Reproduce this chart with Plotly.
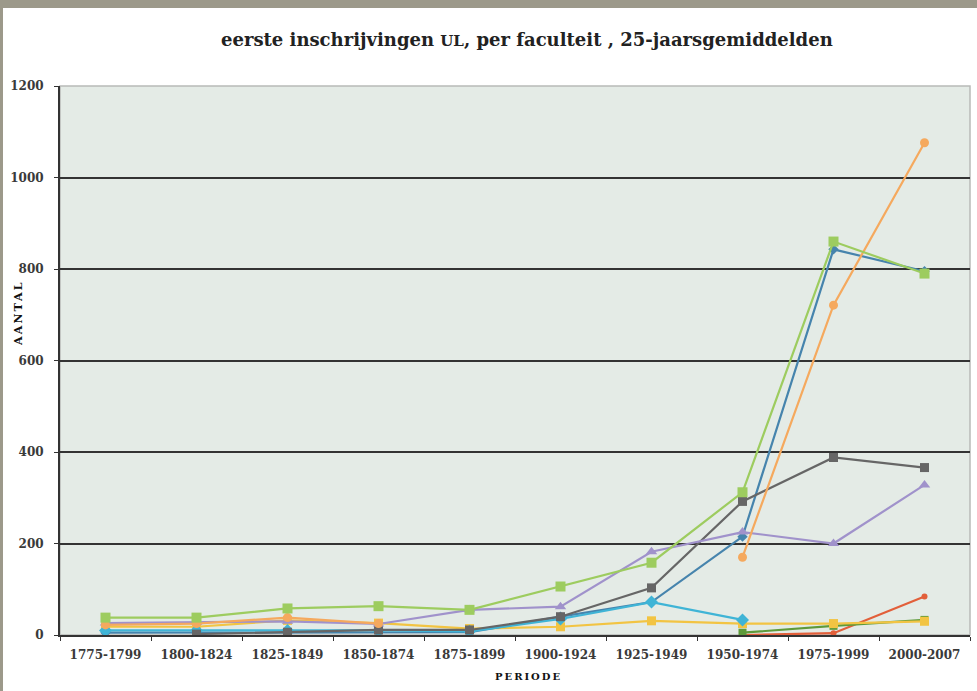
import plotly.graph_objects as go

periods = ["1775-1799", "1800-1824", "1825-1849", "1850-1874", "1875-1899",
           "1900-1924", "1925-1949", "1950-1974", "1975-1999", "2000-2007"]

green = [38, 38, 58, 63, 55, 106, 158, 312, 860, 790]
steelblue = [5, 5, 5, 6, 6, 40, 72, 215, 843, 795]
cyan = [10, 10, 10, 10, 8, 35, 72, 33, None, None]
gray = [None, 2, 6, 11, 11, 40, 103, 292, 388, 366]
purple = [26, 28, 30, 24, 55, 62, 182, 225, 200, 328]
orange = [22, 25, 38, 25, None, None, None, 170, 721, 1076]
yellow = [18, 18, 32, 26, 14, 18, 31, 25, 25, 30]
darkgreen = [None, None, None, None, None, None, None, 5, 20, 33]
red = [None, None, None, None, None, None, None, 0, 4, 84]

yticks = [0, 200, 400, 600, 800, 1000, 1200]

W, H = 977, 691
L, R, T, B = 60, 970, 86, 635   # plot area in pixels


def px(x):
    return (x - L) / (R - L)


def py(y):
    return (B - y) / (B - T)


series = [
    ("red", red, "#e25f3a", "circle", 6),
    ("darkgreen", darkgreen, "#5e9a3a", "square", 8),
    ("yellow", yellow, "#f2c443", "square", 9),
    ("steelblue", steelblue, "#4684ad", "diamond", 8),
    ("cyan", cyan, "#3fb4d6", "diamond", 10),
    ("gray", gray, "#666666", "square", 9),
    ("purple", purple, "#a092cb", "triangle-up", 10),
    ("orange", orange, "#f5a95e", "circle", 9),
    ("green", green, "#9dcc5f", "square", 10),
]

fig = go.Figure()
for name, vals, col, sym, size in series:
    fig.add_trace(go.Scatter(
        x=periods, y=vals, name=name, mode="lines+markers",
        line=dict(color=col, width=2.2),
        marker=dict(color=col, symbol=sym, size=size),
        connectgaps=False, showlegend=False,
    ))

tfont = dict(family="DejaVu Serif", size=12, color="#3a3a3a", weight="bold")

fig.update_layout(
    width=W, height=H,
    margin=dict(l=L, r=W - R, t=T, b=H - B, pad=0),
    paper_bgcolor="white",
    plot_bgcolor="#e4ebe6",
    xaxis=dict(
        type="category", range=[-0.5, 9.5],
        showgrid=False, zeroline=False,
        showline=True, linecolor="#333333", linewidth=2,
        ticks="outside", tickson="boundaries", ticklen=4, tickcolor="#333333",
        tickfont=tfont, ticklabelstandoff=8,
    ),
    yaxis=dict(
        range=[0, 1200], tickvals=yticks, ticktext=[str(v) for v in yticks],
        showgrid=True, gridcolor="#333333", gridwidth=2,
        zeroline=False,
        showline=True, linecolor="#333333", linewidth=2,
        ticks="outside", ticklen=4, tickcolor="#333333",
        tickfont=tfont, ticklabelstandoff=8,
    ),
    shapes=[
        dict(type="rect", xref="paper", yref="paper", x0=0, x1=1, y0=0, y1=1,
             line=dict(color="#b8bab8", width=1.5), layer="below"),
        dict(type="rect", xref="paper", yref="paper", x0=px(0), x1=px(W + 5),
             y0=py(8), y1=py(-5), line=dict(width=0), fillcolor="#9c998a"),
        dict(type="rect", xref="paper", yref="paper", x0=px(-5), x1=px(3),
             y0=py(H + 5), y1=py(-5), line=dict(width=0), fillcolor="#9c998a"),
    ],
    annotations=[
        dict(text="eerste inschrijvingen <span style='font-size:15px'>UL</span>, per faculteit , 25-jaarsgemiddelden",
             xref="paper", yref="paper", x=px(527), y=py(40),
             xanchor="center", yanchor="middle", showarrow=False,
             font=dict(family="DejaVu Serif", size=18, color="#222222", weight="bold")),
        dict(text="A\u2009A\u2009N\u2009T\u2009A\u2009L",
             xref="paper", yref="paper", x=px(18), y=py(314), textangle=-90,
             xanchor="center", yanchor="middle", showarrow=False,
             font=dict(family="DejaVu Serif", size=11, color="#111111", weight="bold")),
        dict(text="P\u2009E\u2009R\u2009I\u2009O\u2009D\u2009E",
             xref="paper", yref="paper", x=px(527), y=py(676),
             xanchor="center", yanchor="middle", showarrow=False,
             font=dict(family="DejaVu Serif", size=10, color="#111111", weight="bold")),
    ],
)

fig.write_html("out.html", config={"displayModeBar": False},
               post_script="document.body.style.margin='0';")
